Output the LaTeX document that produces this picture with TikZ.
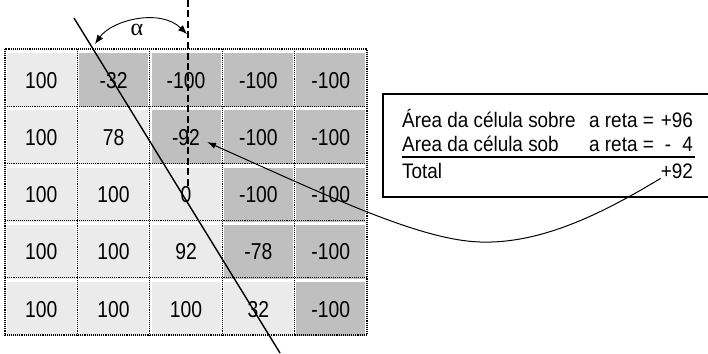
\documentclass[tikz,border=0pt]{standalone}
\usepackage{fontspec}
\setmainfont{Liberation Sans}
\newfontfamily\cellfont{Liberation Sans}[FakeStretch=0.84]
\newfontfamily\boxfont{Liberation Sans}[FakeStretch=0.9]
\newfontfamily\greekfont{Liberation Serif}
\usepackage{xcolor}
\colorlet{celllight}{black!8}
\colorlet{celldark}{black!25}
\usepackage{tikz}
\usetikzlibrary{arrows.meta}
\tikzset{
  cell/.style={minimum width=69pt, minimum height=54pt, inner sep=0pt,
    text height=16.5pt, text depth=0pt, yshift=-2.5pt,
    font=\cellfont\fontsize{23}{26}\selectfont},
  lite/.style={cell, fill=celllight},
  dark/.style={cell, fill=celldark},
  boxtext/.style={inner sep=0pt, font=\boxfont\fontsize{21}{24}\selectfont},
  grid/.style={densely dotted, line width=1.1pt}
}

\begin{document}
\begin{tikzpicture}[x=1pt, y=-1pt]
      \useasboundingbox (0,0) rectangle (708,353);

      % cells, row by row
      \node[lite] (c11) at (41.2,77.6) {100};
      \node[dark] (c12) at (113.6,77.6) {-32};
      \node[dark] (c13) at (186,77.6) {-100};
      \node[dark] (c14) at (258.4,77.6) {-100};
      \node[dark] (c15) at (330.8,77.6) {-100};
      \node[lite] (c21) at (41.2,134.8) {100};
      \node[lite] (c22) at (113.6,134.8) {78};
      \node[dark] (c23) at (186,134.8) {-92};
      \node[dark] (c24) at (258.4,134.8) {-100};
      \node[dark] (c25) at (330.8,134.8) {-100};
      \node[lite] (c31) at (41.2,192) {100};
      \node[lite] (c32) at (113.6,192) {100};
      \node[lite] (c33) at (186,192) {0};
      \node[dark] (c34) at (258.4,192) {-100};
      \node[dark] (c35) at (330.8,192) {-100};
      \node[lite] (c41) at (41.2,249.2) {100};
      \node[lite] (c42) at (113.6,249.2) {100};
      \node[lite] (c43) at (186,249.2) {92};
      \node[dark] (c44) at (258.4,249.2) {-78};
      \node[dark] (c45) at (330.8,249.2) {-100};
      \node[lite] (c51) at (41.2,306.4) {100};
      \node[lite] (c52) at (113.6,306.4) {100};
      \node[lite] (c53) at (186,306.4) {100};
      \node[lite] (c54) at (258.4,306.4) {32};
      \node[dark] (c55) at (330.8,306.4) {-100};

      % dotted grid
      \draw[grid] (5,49) rectangle (367,335);
      \draw[grid] (77.4,49) -- (77.4,335);
      \draw[grid] (149.8,49) -- (149.8,335);
      \draw[grid] (222.2,49) -- (222.2,335);
      \draw[grid] (294.6,49) -- (294.6,335);
      \draw[grid] (5,106.2) -- (367,106.2);
      \draw[grid] (5,163.4) -- (367,163.4);
      \draw[grid] (5,220.6) -- (367,220.6);
      \draw[grid] (5,277.8) -- (367,277.8);

      % the line and the vertical
      \draw[line width=1.4pt] (74,18) -- (280,353);
      \draw[line width=1.3pt, dash pattern=on 7pt off 3.5pt] (188,0) -- (188,186);

      % angle
      \draw[{Latex[length=9pt,width=7pt]}-{Latex[length=9pt,width=7pt]}, line width=0.9pt]
            (95,44) .. controls (112,20) and (160,8) .. (187,34);
      \node (alpha) at (137,30) {\greekfont\fontsize{24}{24}\selectfont α};

      % box
      \draw[line width=1.2pt] (712,94) -- (383,94) -- (383,197) -- (712,197);
      \node[boxtext, anchor=base west] (l1a) at (402,127) {Área da célula sobre};
      \node[boxtext, anchor=base west] (l1b) at (589,127) {a reta =};
      \node[boxtext, anchor=base east] (l1c) at (693,127) {+96};
      \node[boxtext, anchor=base west] (l2a) at (402,151) {Area da célula sob};
      \node[boxtext, anchor=base west] (l2b) at (589,151) {a reta =};
      \node[boxtext, anchor=base] (l2c) at (668,151) {-};
      \node[boxtext, anchor=base east] (l2d) at (693,151) {4};
      \draw[line width=1.1pt] (402,157) -- (695,157);
      \node[boxtext, anchor=base west] (tl) at (402,178) {Total};
      \node[boxtext, anchor=base east] (tot) at (693,178) {+92};

      % arrow to the cell
      \coordinate (tip) at (207,142);
      \draw[-{Latex[length=9pt,width=6pt]}, line width=1pt] (tot.south west) .. controls (600,215) and (540,244) .. (480,242)
            .. controls (420,240) and (330,197) .. (tip);
\end{tikzpicture}
\end{document}
